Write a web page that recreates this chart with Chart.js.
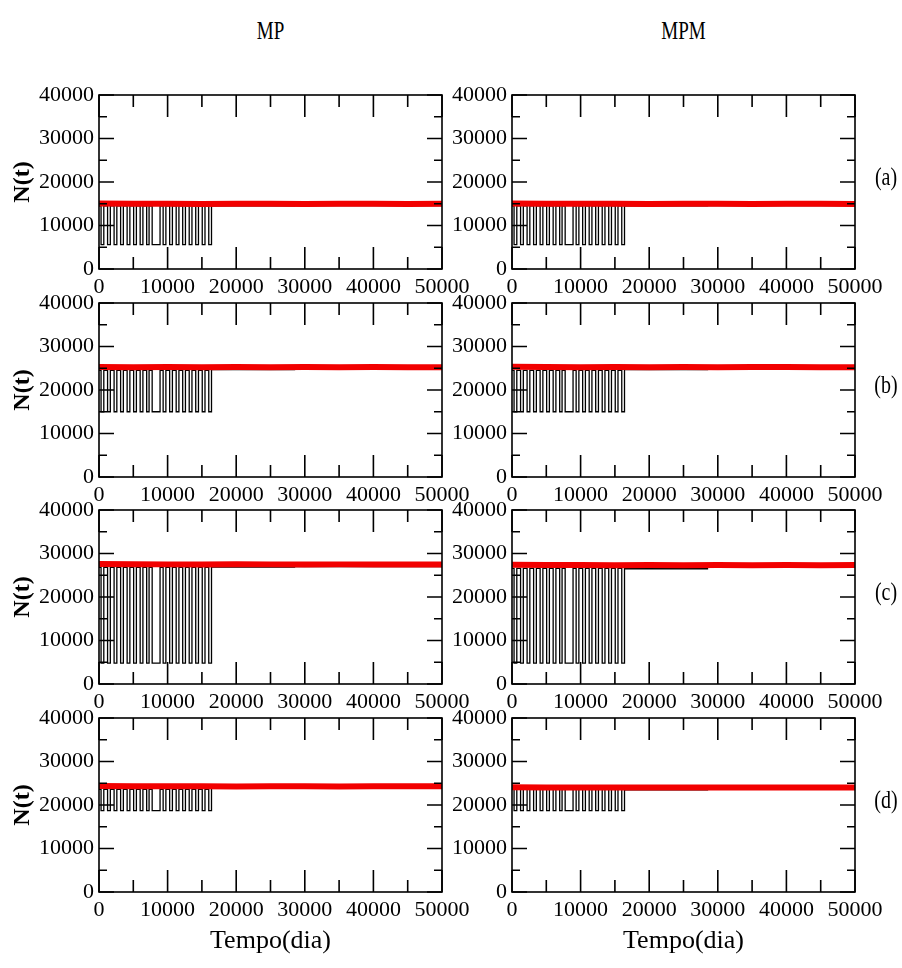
<!DOCTYPE html>
<html>
<head>
<meta charset="utf-8">
<script src="https://cdn.jsdelivr.net/npm/chart.js@4.4.1/dist/chart.umd.min.js"></script>
<style>
body { margin: 0; background: #fff; width: 902px; height: 968px; position: relative; overflow: hidden; font-family: "Liberation Serif", serif; }
canvas { position: absolute; }
.lbl { position: absolute; white-space: nowrap; color: #000; transform: translate(-50%, -50%) scaleY(1.3); }
</style>
</head>
<body>
<script>
const columns = ["MP", "MPM"];
const panelTags = ["(a)", "(b)", "(c)", "(d)"];
const xTicks = [0, 10000, 20000, 30000, 40000, 50000];
const yTicks = [0, 10000, 20000, 30000, 40000];

// low phases of the cycling population (days), same forcing in every run
const lowStart = [300, 1250, 2200, 3150, 4100, 5050, 6000, 6950, 7750, 9350, 10300, 11250, 12200, 13150, 14100, 15050, 16000];
const lowEnd   = [700, 1650, 2600, 3550, 4500, 5450, 6400, 7300, 8900, 9750, 10700, 11650, 12600, 13550, 14500, 15450, 16400];

// plateau levels of N(t) while cycling, rows (a)..(d)
const mpHigh  = [14500, 24500, 26800, 23600];
const mpLow   = [5600, 15000, 4800, 18700];
const mpmHigh = [14500, 24500, 26600, 23600];
const mpmLow  = [5600, 15000, 4800, 18700];

// black curve after the cycling stops
const tailDays = [16400, 28500, 50000];
const mpTail  = [[14500, 14600, 14600], [24700, 24800, 24800], [26900, 27000, 27000], [23800, 23900, 23900]];
const mpmTail = [[14500, 14600, 14600], [24700, 24900, 24900], [26500, 27300, 27300], [23500, 23700, 23700]];

// red curve, sampled every 5000 days
const redDays = [0, 5000, 10000, 15000, 20000, 25000, 30000, 35000, 40000, 45000, 50000];
const mpRed = [
    [15050, 15000, 15000, 14950, 15000, 15000, 14950, 15000, 15000, 14950, 15000],
    [25300, 25250, 25300, 25250, 25300, 25250, 25300, 25250, 25300, 25250, 25250],
    [27600, 27550, 27500, 27500, 27550, 27500, 27450, 27500, 27500, 27450, 27450],
    [24350, 24300, 24300, 24300, 24250, 24300, 24300, 24250, 24300, 24300, 24300]
];
const mpmRed = [
    [15050, 15000, 15000, 15000, 14950, 15000, 15000, 14950, 15000, 15000, 14950],
    [25350, 25300, 25250, 25300, 25250, 25300, 25250, 25300, 25300, 25250, 25250],
    [27400, 27350, 27350, 27300, 27350, 27300, 27350, 27300, 27350, 27300, 27350],
    [24100, 24050, 24050, 24000, 24050, 24000, 24000, 24050, 24000, 24000, 24050]
];

const plotLeft = [99, 512];
const plotTop = [95, 303, 510, 718];
const plotW = 343, plotH = 174;
const padL = 100, padR = 40, padT = 20;
const tickFont = { family: "Liberation Serif", size: 22 };

function blackSeries(high, low, tail) {
    const pts = [{ x: 0, y: high }];
    lowStart.forEach((s, i) => {
        pts.push({ x: s, y: low });
        pts.push({ x: lowEnd[i], y: i === lowStart.length - 1 ? tail[0] : high });
    });
    for (let i = 1; i < tailDays.length; i++) {
        pts.push({ x: tailDays[i], y: tail[i] });
    }
    return pts;
}

function redSeries(vals) {
    return redDays.map((d, i) => ({ x: d, y: vals[i] }));
}

// frame plus inward major/minor ticks on all four sides
const frameTicks = {
    id: "frameTicks",
    afterDatasetsDraw(chart) {
        const { ctx, chartArea: a, scales: { x, y } } = chart;
        ctx.save();
        ctx.strokeStyle = "#000";
        ctx.lineWidth = 1.6;
        ctx.strokeRect(a.left, a.top, a.right - a.left, a.bottom - a.top);
        ctx.beginPath();
        for (let i = 0; i < xTicks.length; i++) {
            const marks = [[xTicks[i], 22]];
            if (i < xTicks.length - 1) marks.push([(xTicks[i] + xTicks[i + 1]) / 2, 12]);
            marks.forEach(([v, len]) => {
                const px = x.getPixelForValue(v);
                ctx.moveTo(px, a.bottom); ctx.lineTo(px, a.bottom - len);
                ctx.moveTo(px, a.top); ctx.lineTo(px, a.top + len);
            });
        }
        for (let i = 0; i < yTicks.length; i++) {
            const marks = [[yTicks[i], 15]];
            if (i < yTicks.length - 1) marks.push([(yTicks[i] + yTicks[i + 1]) / 2, 8]);
            marks.forEach(([v, len]) => {
                const py = y.getPixelForValue(v);
                ctx.moveTo(a.left, py); ctx.lineTo(a.left + len, py);
                ctx.moveTo(a.right, py); ctx.lineTo(a.right - len, py);
            });
        }
        ctx.stroke();
        ctx.restore();
    }
};

function makePanel(col, row) {
    const last = row === 3;
    const padB = last ? 76 : 40;
    const w = padL + plotW + padR;
    const h = padT + plotH + padB;

    const canvas = document.createElement("canvas");
    canvas.width = w;
    canvas.height = h;
    canvas.style.left = (plotLeft[col] - padL) + "px";
    canvas.style.top = (plotTop[row] - padT) + "px";
    canvas.style.width = w + "px";
    canvas.style.height = h + "px";
    document.body.appendChild(canvas);

    const high = col === 0 ? mpHigh : mpmHigh;
    const low = col === 0 ? mpLow : mpmLow;
    const tail = col === 0 ? mpTail : mpmTail;
    const red = col === 0 ? mpRed : mpmRed;

    new Chart(canvas, {
        type: "line",
        data: {
            datasets: [
                {
                    data: redSeries(red[row]),
                    borderColor: "#f20000",
                    borderWidth: 6,
                    pointRadius: 0
                },
                {
                    data: blackSeries(high[row], low[row], tail[row]),
                    borderColor: "#000",
                    borderWidth: 1.3,
                    pointRadius: 0,
                    stepped: true
                }
            ]
        },
        options: {
            responsive: false,
            animation: false,
            events: [],
            layout: { padding: { top: padT, right: padR, left: 0, bottom: 0 } },
            plugins: { legend: { display: false }, tooltip: { enabled: false } },
            scales: {
                x: {
                    type: "linear",
                    min: 0,
                    max: 50000,
                    afterBuildTicks: s => { s.ticks = xTicks.map(v => ({ value: v })); },
                    afterFit: s => { s.height = padB; },
                    ticks: { font: tickFont, color: "#000", padding: 5, maxRotation: 0, autoSkip: false, callback: v => String(v) },
                    grid: { display: false, drawTicks: false },
                    border: { display: false },
                    title: {
                        display: last,
                        text: "Tempo(dia)",
                        color: "#000",
                        font: { family: "Liberation Serif", size: 26 },
                        padding: { top: 0, bottom: 11 }
                    }
                },
                y: {
                    type: "linear",
                    min: 0,
                    max: 40000,
                    afterBuildTicks: s => { s.ticks = yTicks.map(v => ({ value: v })); },
                    afterFit: s => { s.width = padL; },
                    ticks: { font: tickFont, color: "#000", padding: 5, autoSkip: false, callback: v => String(v) },
                    grid: { display: false, drawTicks: false },
                    border: { display: false },
                    title: {
                        display: col === 0,
                        text: "N(t)",
                        color: "#000",
                        font: { family: "Liberation Serif", size: 24, weight: "bold" },
                        padding: { top: 9, bottom: 0 }
                    }
                }
            }
        },
        plugins: [frameTicks]
    });
}

function addLabel(text, cx, cy, size) {
    const d = document.createElement("div");
    d.className = "lbl";
    d.textContent = text;
    d.style.left = cx + "px";
    d.style.top = cy + "px";
    d.style.fontSize = size + "px";
    document.body.appendChild(d);
}

for (let row = 0; row < 4; row++) {
    for (let col = 0; col < 2; col++) {
        makePanel(col, row);
    }
}

columns.forEach((t, c) => addLabel(t, plotLeft[c] + plotW / 2, 31, 19));
panelTags.forEach((t, r) => addLabel(t, 886, plotTop[r] + 82, 20));
</script>
</body>
</html>
